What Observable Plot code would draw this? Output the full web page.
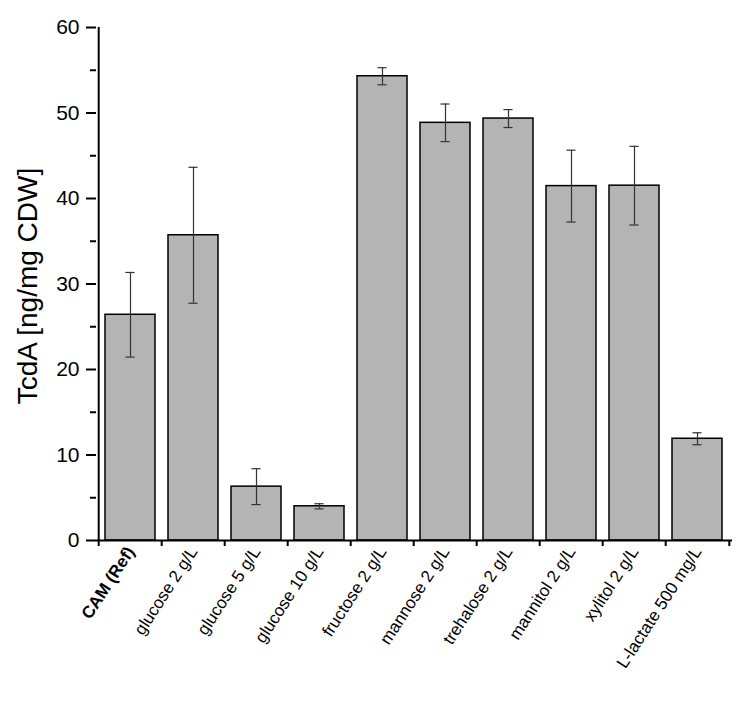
<!DOCTYPE html>
<html>
<head>
<meta charset="utf-8">
<script src="https://cdn.jsdelivr.net/npm/d3@7"></script>
<script src="https://cdn.jsdelivr.net/npm/@observablehq/plot@0.6"></script>
<style>
  html, body { margin: 0; padding: 0; background: #fff; }
  #chart svg { display: block; }
</style>
</head>
<body>
<div id="chart"></div>
<script>
const categories = ["CAM (Ref)", "glucose 2 g/L", "glucose 5 g/L", "glucose 10 g/L", "fructose 2 g/L", "mannose 2 g/L", "trehalose 2 g/L", "mannitol 2 g/L", "xylitol 2 g/L", "L-lactate 500 mg/L"];
const values = [26.4, 35.7, 6.3, 4.0, 54.3, 48.85, 49.35, 41.45, 41.5, 11.9];
const errors = [4.95, 7.95, 2.1, 0.3, 1.0, 2.2, 1.05, 4.2, 4.6, 0.7];
const majorTicks = [0, 10, 20, 30, 40, 50, 60];
const minorTicks = [5, 15, 25, 35, 45, 55];
const yLabel = "TcdA [ng/mg CDW]";

const data = categories.map((c, i) => ({cat: c, v: values[i], lo: values[i] - errors[i], hi: values[i] + errors[i]}));

const W = 750, H = 720, ML = 96, MR = 18, MT = 27, MB = 180;
const step = (W - ML - MR) / categories.length;
const bandwidth = step * 0.8;
const capW = 10;

const chart = Plot.plot({
  width: W,
  height: H,
  marginLeft: ML,
  marginRight: MR,
  marginTop: MT,
  marginBottom: MB,
  style: {fontFamily: "'Liberation Sans', Arial, sans-serif", color: "#000", background: "#fff", overflow: "visible"},
  x: {type: "band", domain: categories, paddingInner: 0.2, paddingOuter: 0.1, align: 0.5},
  y: {domain: [0, 60]},
  marks: [
    Plot.barY(data, {x: "cat", y: "v", fill: "#b4b4b4", stroke: "#000", strokeWidth: 1.5}),
    Plot.ruleX(data, {x: "cat", y1: "lo", y2: "hi", stroke: "#333", strokeWidth: 1.2}),
    Plot.tickY(data, {x: "cat", y: "hi", stroke: "#333", strokeWidth: 1.2, insetLeft: (bandwidth - capW) / 2, insetRight: (bandwidth - capW) / 2}),
    Plot.tickY(data, {x: "cat", y: "lo", stroke: "#333", strokeWidth: 1.2, insetLeft: (bandwidth - capW) / 2, insetRight: (bandwidth - capW) / 2}),
    // axis lines
    Plot.ruleY([0], {stroke: "#000", strokeWidth: 2}),
    Plot.ruleX([categories[0]], {dx: -step / 2, y1: 0, y2: 60, stroke: "#000", strokeWidth: 2}),
    // x boundary ticks
    Plot.ruleX(categories, {dx: -step / 2, y1: 0, y2: 0, insetBottom: -6, stroke: "#000", strokeWidth: 2}),
    Plot.ruleX([categories[categories.length - 1]], {dx: step / 2, y1: 0, y2: 0, insetBottom: -6, stroke: "#000", strokeWidth: 2}),
    // y axis
    Plot.axisY({ticks: majorTicks, tickSize: 10, tickPadding: 7, tickFormat: d => String(d), fontSize: 21, strokeWidth: 2, label: null}),
    Plot.axisY({ticks: minorTicks, tickSize: 6, tickFormat: () => "", strokeWidth: 2, label: null}),
    Plot.text([yLabel], {frameAnchor: "left", rotate: -90, dx: -68, dy: 2, fontSize: 28, textAnchor: "middle"}),
    // x labels
    Plot.axisX({ticks: categories.slice(1), tickSize: 0, tickPadding: 8, tickRotate: -57, fontSize: 17, label: null}),
    Plot.axisX({ticks: [categories[0]], tickSize: 0, tickPadding: 8, tickRotate: -57, fontSize: 17, fontWeight: "bold", label: null})
  ]
});
// enforce font sizes on tick labels
const tickStrings = new Set(majorTicks.map(String));
d3.select(chart).selectAll("text").each(function() {
  const t = this.textContent;
  if (tickStrings.has(t)) this.setAttribute("style", "font-size:21px");
});
document.getElementById("chart").appendChild(chart);
</script>
</body>
</html>
